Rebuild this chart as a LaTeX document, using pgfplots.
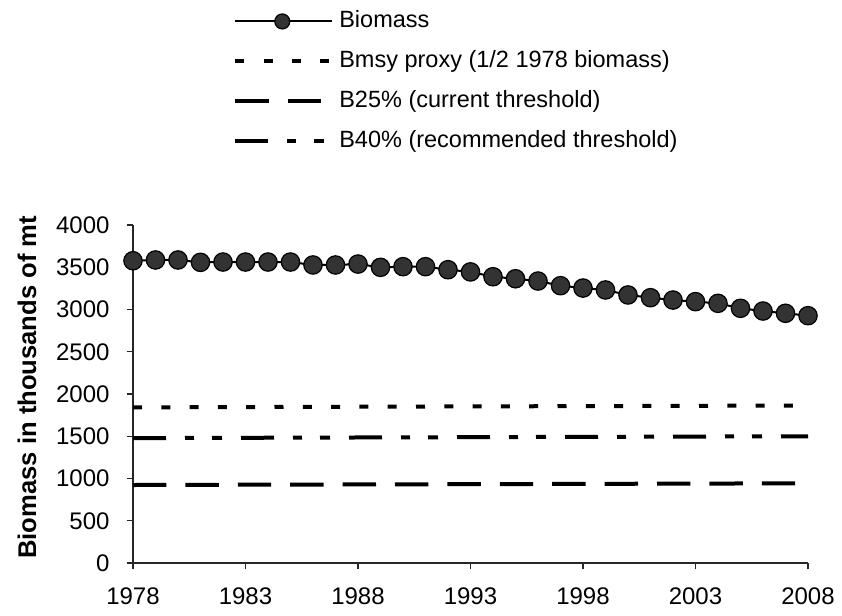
\documentclass[border=0pt]{standalone}
\usepackage{fontspec}
\setmainfont{Liberation Sans}
\usepackage{pgfplots}
\pgfplotsset{compat=1.18}

% legend samples: a line with one marker, and a plain line
\pgfplotsset{
  biolegend/.style={legend image code/.code={%
    \draw[##1, mark size=3.75pt, mark repeat=2, mark phase=2]
      plot coordinates {(0pt,0pt) (23.5pt,0pt) (48.5pt,0pt)};}},
  reflegend/.style={legend image code/.code={%
    \draw[##1] (0pt,0pt) -- (48.5pt,0pt);}},
}

\begin{document}
\begin{tikzpicture}
\path[use as bounding box] (0,0) rectangle (421pt,308pt);
\begin{axis}[
  at={(66.5pt,26.5pt)}, anchor=south west,
  scale only axis, width=337.5pt, height=169pt,
  xmin=1978, xmax=2008, ymin=0, ymax=4000,
  xtick={1978,1983,...,2008}, ytick={0,500,...,4000},
  axis x line*=bottom, axis y line*=left,
  tick align=outside, major tick length=3.2pt,
  tick style={black!85, line width=0.6pt},
  axis line style={black!85, line width=0.7pt},
  /pgf/number format/1000 sep={},
  /pgf/number format/assume math mode=true,
  ticklabel style={font=\fontsize{12}{14}\selectfont},
  yticklabel style={xshift=-5pt},
  xticklabel style={yshift=-5.5pt},
  ylabel={Biomass in thousands of mt},
  ylabel style={at={(axis description cs:-0.157,0.52)}, anchor=center,
    font=\fontsize{12.8}{15}\selectfont\bfseries},
  clip=false,
  legend cell align=left,
  legend style={at={(axis description cs:0.148,1.636)}, anchor=north west,
    draw=none, fill=none, inner sep=0pt, row sep=9pt,
    font=\fontsize{11.75}{14}\selectfont,
    nodes={inner sep=0pt, text height=8.5pt, text depth=2.5pt},
    /tikz/every odd column/.append style={column sep=2.5pt}},
]
% stock biomass, thousands of mt
\addplot[black, line width=1pt, mark=*, mark size=4.6pt,
  mark options={fill=black!80, draw=black, line width=0.6pt}, biolegend]
  coordinates {
  (1978,3577) (1979,3586) (1980,3586) (1981,3558) (1982,3562) (1983,3562)
  (1984,3562) (1985,3562) (1986,3527) (1987,3527) (1988,3538) (1989,3499)
  (1990,3507) (1991,3507) (1992,3471) (1993,3445) (1994,3388) (1995,3364)
  (1996,3337) (1997,3282) (1998,3254) (1999,3231) (2000,3172) (2001,3140)
  (2002,3112) (2003,3093) (2004,3073) (2005,3014) (2006,2982) (2007,2955)
  (2008,2927)};
\addlegendentry{Biomass}
% reference points
\addplot[black, line width=2pt, line cap=butt,
  dash pattern=on 4.5pt off 9.65pt, reflegend]
  coordinates {(1978,1842) (2008,1864)};
\addlegendentry{Bmsy proxy (1/2 1978 biomass)}
\addplot[black, line width=2pt, line cap=butt,
  dash pattern=on 16.7pt off 9.5pt, reflegend]
  coordinates {(1978,923) (2008,943)};
\addlegendentry{B25\% (current threshold)}
\addplot[black, line width=2pt, line cap=butt,
  dash pattern=on 16.5pt off 9.5pt on 4.5pt off 9pt on 5pt off 9.5pt, reflegend]
  coordinates {(1978,1478) (2008,1500)};
\addlegendentry{B40\% (recommended threshold)}
\end{axis}
\end{tikzpicture}
\end{document}
